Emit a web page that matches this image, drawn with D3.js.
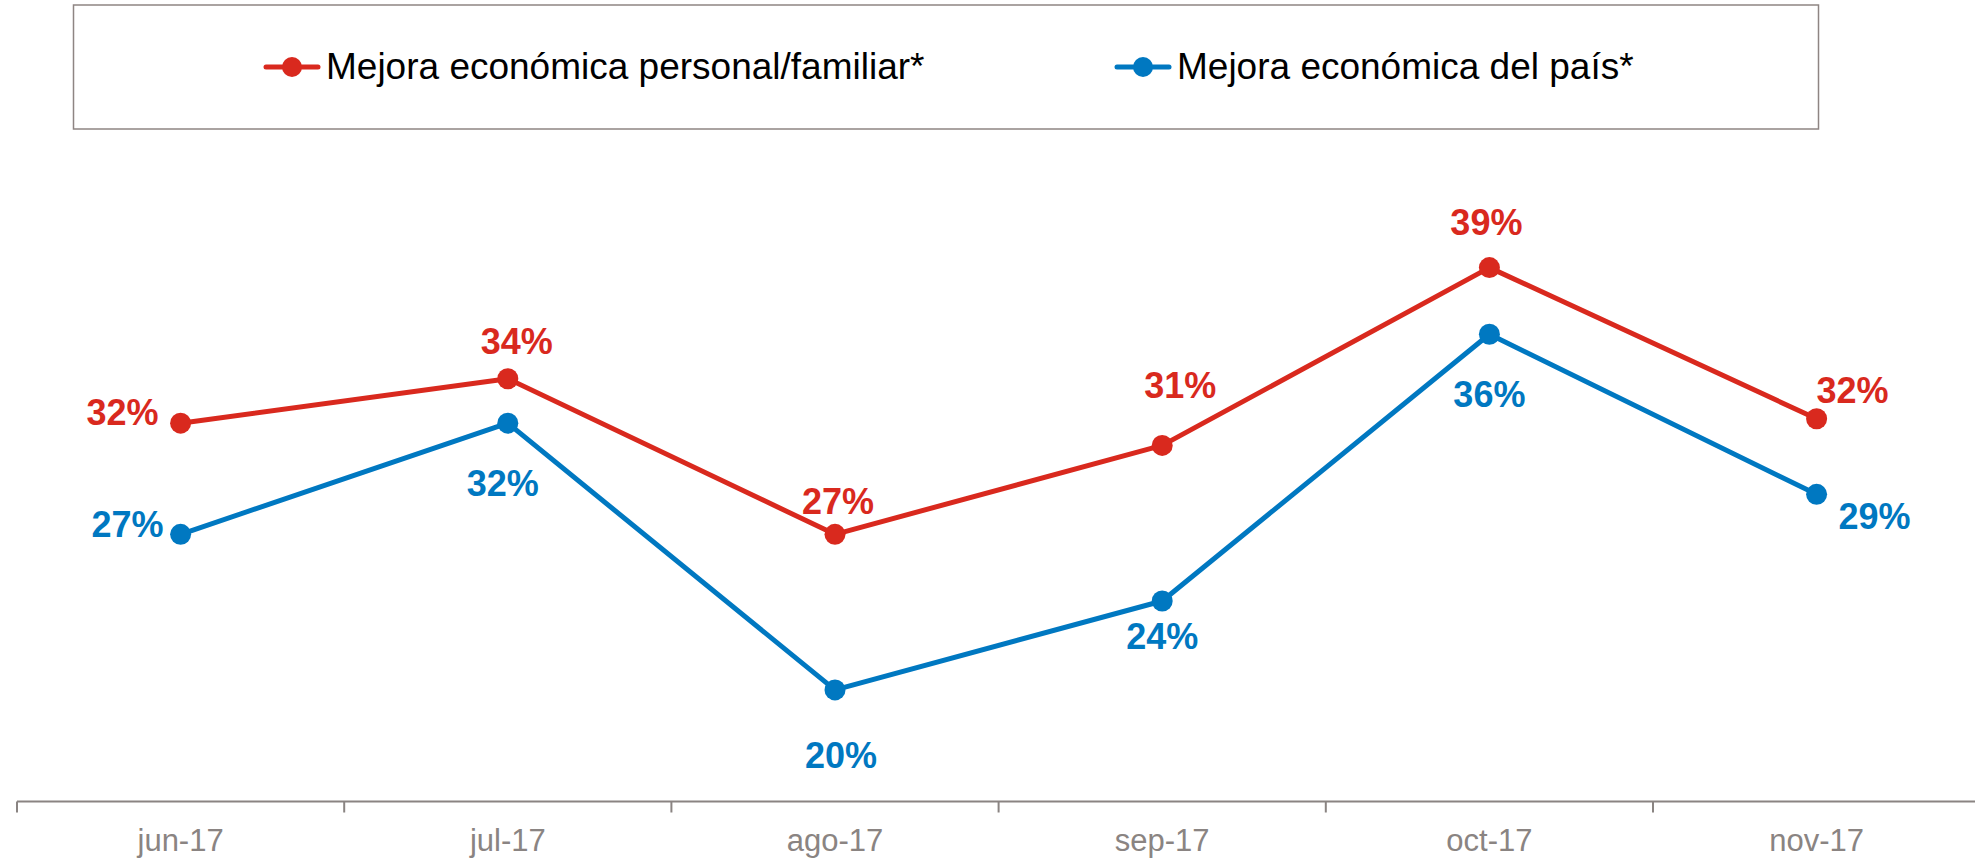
<html>

<head>
    <style>
        body { margin: 0; background: #fff; }
        text { font-family: "Liberation Sans", Arial, sans-serif; }
        .axis path, .axis line { stroke: #8a8482; stroke-width: 2; }
        .axis text { fill: #8a8482; font-size: 31px; }
        .label { font-size: 36px; font-weight: bold; }
    </style>
</head>

<body>
    <svg id="chart"></svg>
</body>
<script src="https://cdn.jsdelivr.net/npm/d3@7"></script>
<script>
    let width = 1975,
        height = 858;

    // data
    let months = ["jun-17", "jul-17", "ago-17", "sep-17", "oct-17", "nov-17"]
    let personal = [32, 34, 27, 31, 39, 32.2]
    let pais = [27, 32, 20, 24, 36, 28.8]
    let seriesNames = ["Mejora económica personal/familiar*", "Mejora económica del país*"]
    let colors = ["#d9291e", "#0078c1"]

    // where each value label sits relative to its point
    let labelOffsets = [
        [[-22, 2, "end"], [9, -25, "middle"], [3, -20, "middle"], [18, -47, "middle"], [-3, -33, "middle"], [36, -16, "middle"]],
        [[-17, 3, "end"], [-5, 73, "middle"], [6, 78, "middle"], [0, 48, "middle"], [0, 73, "middle"], [58, 35, "middle"]]
    ]

    let svg = d3.select("#chart").attr("width", width).attr("height", height)

    let x = d3.scaleBand().domain(months).range([17, 17 + 6 * 327.2])
    let y = d3.scaleLinear().domain([15, 40]).range([801, 245.4])

    // legend box
    svg.append("rect")
        .attr("x", 73.5).attr("y", 5).attr("width", 1745).attr("height", 124)
        .attr("fill", "none").attr("stroke", "#8e8583").attr("stroke-width", 1.5)

    let legendX = [292, 1143]
    seriesNames.forEach((name, i) => {
        let g = svg.append("g").attr("transform", `translate(${legendX[i]},67)`)
        g.append("line").attr("x1", -26).attr("x2", 26)
            .attr("stroke", colors[i]).attr("stroke-width", 5).attr("stroke-linecap", "round")
        g.append("circle").attr("r", 10).attr("fill", colors[i])
        g.append("text").attr("x", 34).attr("y", 12)
            .attr("font-size", 37).attr("fill", "#000").text(name)
    })

    // x axis
    let axis = svg.append("g")
        .attr("class", "axis")
        .attr("transform", "translate(0,801.5)")
        .call(d3.axisBottom(x).tickSize(0).tickPadding(27))
    axis.select(".domain").attr("d", `M17,0H${width}`)
    axis.selectAll(".tick line").remove()
    axis.selectAll(".boundary")
        .data(months)
        .enter()
        .append("line")
        .attr("x1", d => x(d)).attr("x2", d => x(d))
        .attr("y1", 0).attr("y2", 11)

    let line = d3.line()
        .x((d, i) => x(months[i]) + x.bandwidth() / 2)
        .y(d => y(d))

    let series = [personal, pais]
    series.forEach((values, s) => {
        svg.append("path")
            .datum(values)
            .attr("d", line)
            .attr("fill", "none")
            .attr("stroke", colors[s])
            .attr("stroke-width", 5)
            .attr("stroke-linejoin", "round")

        svg.append("g")
            .selectAll("circle")
            .data(values)
            .enter()
            .append("circle")
            .attr("cx", (d, i) => x(months[i]) + x.bandwidth() / 2)
            .attr("cy", d => y(d))
            .attr("r", 10.5)
            .attr("fill", colors[s])

        svg.append("g")
            .selectAll("text")
            .data(values)
            .enter()
            .append("text")
            .attr("class", "label")
            .attr("x", (d, i) => x(months[i]) + x.bandwidth() / 2 + labelOffsets[s][i][0])
            .attr("y", (d, i) => y(d) + labelOffsets[s][i][1])
            .attr("text-anchor", (d, i) => labelOffsets[s][i][2])
            .attr("fill", colors[s])
            .text(d => Math.round(d) + "%")
    })
</script>

</html>
